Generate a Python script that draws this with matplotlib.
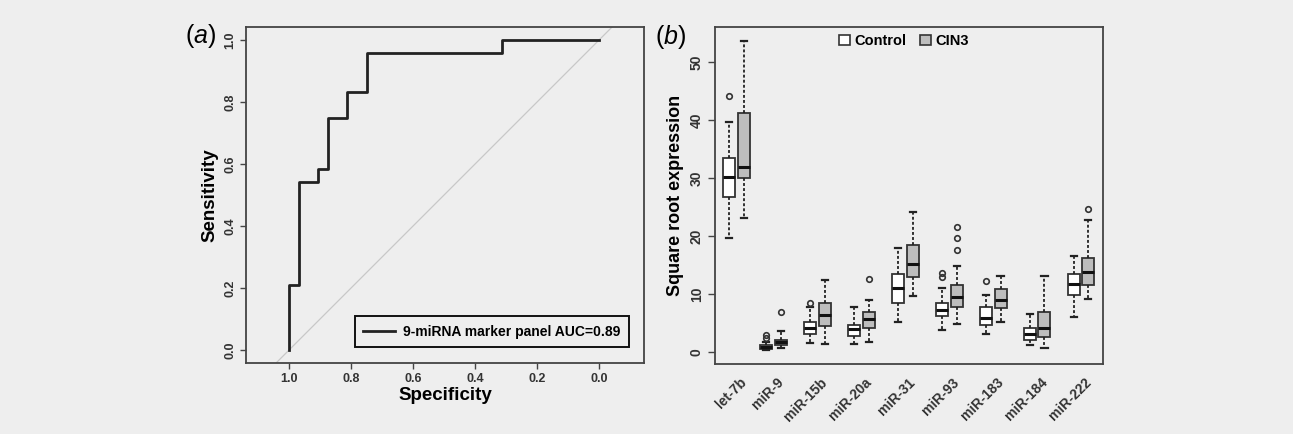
import matplotlib.pyplot as plt
import numpy as np

plt.rcParams['font.family'] = ['Liberation Sans', 'DejaVu Sans']
plt.rcParams['mathtext.fontset'] = 'custom'
plt.rcParams['mathtext.it'] = 'Liberation Sans:italic'
plt.rcParams['mathtext.rm'] = 'Liberation Sans'

# ROC curve (panel a)
specificity = [1.0, 1.0, 0.96875, 0.96875, 0.90625, 0.90625, 0.875, 0.875,
               0.8125, 0.8125, 0.75, 0.75, 0.3125, 0.3125, 0.0]
sensitivity = [0.0, 0.2083, 0.2083, 0.5417, 0.5417, 0.5833, 0.5833, 0.75,
               0.75, 0.8333, 0.8333, 0.9583, 0.9583, 1.0, 1.0]
roc_label = "9-miRNA marker panel AUC=0.89"

# boxplots (panel b)
mirnas = ["let-7b", "miR-9", "miR-15b", "miR-20a", "miR-31", "miR-93",
          "miR-183", "miR-184", "miR-222"]
ctrl_whislo = [19.6, 0.4, 1.6, 1.3, 5.2, 3.8, 3.1, 1.2, 6.1]
ctrl_q1 = [26.8, 0.55, 3.0, 2.7, 8.5, 6.2, 4.6, 2.1, 9.9]
ctrl_med = [30.2, 0.85, 4.15, 4.0, 11.0, 7.2, 5.9, 3.0, 11.8]
ctrl_q3 = [33.5, 1.2, 5.1, 4.7, 13.4, 8.5, 7.7, 4.2, 13.4]
ctrl_whishi = [39.7, 1.7, 7.8, 7.7, 17.9, 11.1, 9.9, 6.6, 16.5]
ctrl_fliers = [[44.2], [2.4, 2.9], [8.5], [], [], [12.9, 13.6], [12.3], [], []]

cin_whislo = [23.2, 0.6, 1.3, 1.7, 9.6, 4.8, 5.1, 0.6, 9.2]
cin_q1 = [30.1, 1.2, 4.4, 4.2, 12.9, 7.8, 7.6, 2.6, 11.5]
cin_med = [31.9, 1.7, 6.3, 5.6, 15.1, 9.5, 8.9, 4.1, 13.8]
cin_q3 = [41.3, 2.1, 8.5, 6.8, 18.4, 11.6, 10.8, 6.9, 16.2]
cin_whishi = [53.7, 3.6, 12.4, 8.9, 24.1, 14.9, 13.1, 13.1, 22.7]
cin_fliers = [[], [6.9], [], [12.5], [], [17.6, 19.6, 21.6], [], [], [24.6]]

BG = "#eeeeee"
FRAME = "#444444"

fig = plt.figure(figsize=(12.93, 4.34), dpi=100, facecolor=BG)
W, H = 1293, 434


def px_axes(l, t, r, b):
    return fig.add_axes([l / W, 1 - b / H, (r - l) / W, (b - t) / H])


# ---- panel a ----
ax1 = px_axes(246, 27, 644, 363)
ax1.set_facecolor(BG)
ax1.plot([1.2, -0.2], [-0.2, 1.2], color="#c8c8c8", lw=0.9, zorder=1)
ax1.plot(specificity, sensitivity, color="#222222", lw=2, label=roc_label, zorder=3)
ax1.set_xlim(1.139, -0.145)
ax1.set_ylim(-0.042, 1.042)
ax1.set_xticks(np.arange(0, 1.01, 0.2))
ax1.set_yticks(np.arange(0, 1.01, 0.2))
ax1.xaxis.set_major_formatter(plt.FuncFormatter(lambda v, p: f"{v:.1f}"))
ax1.yaxis.set_major_formatter(plt.FuncFormatter(lambda v, p: f"{v:.1f}"))
ax1.tick_params(labelsize=9, length=4, color=FRAME, width=1, pad=3)
for lab in ax1.get_xticklabels() + ax1.get_yticklabels():
    lab.set_fontweight("bold")
    lab.set_color("#333333")
ax1.tick_params(axis="y", labelrotation=90)
for lab in ax1.get_yticklabels():
    lab.set_va("center")
ax1.set_xlabel("Specificity", fontsize=13.5, fontweight="bold", labelpad=2)
ax1.set_ylabel("Sensitivity", fontsize=13.5, fontweight="bold", labelpad=4)
for s in ax1.spines.values():
    s.set_color(FRAME)
    s.set_linewidth(1.3)
leg = ax1.legend(loc="lower right", bbox_to_anchor=(0.962, 0.048), borderaxespad=0,
                 fancybox=False, edgecolor="#111111", facecolor=BG, framealpha=1,
                 prop={"weight": "bold", "size": 10}, handlelength=2.3,
                 borderpad=0.6, handletextpad=0.6)
leg.get_frame().set_linewidth(1.4)
fig.text(185 / W, 1 - 36 / H, r"($\it{a}$)", fontsize=18, va="center", ha="left")

# ---- panel b ----
ax2 = px_axes(715, 27, 1103, 364)
ax2.set_facecolor(BG)
group_pos = np.arange(len(mirnas)) * 3 + 1.0
ctrl_pos = group_pos.copy()
cin_pos = group_pos + 1.0
ctrl_pos[0] = 1.46
cin_pos[0] = 2.5


def make_stats(lo, q1, med, q3, hi, fl):
    return [dict(whislo=a, q1=b, med=c, q3=d, whishi=e, fliers=f)
            for a, b, c, d, e, f in zip(lo, q1, med, q3, hi, fl)]


common = dict(widths=0.82, capwidths=0.42, patch_artist=True, showfliers=True,
              whiskerprops=dict(color="#222222", lw=1.3, linestyle=(0, (1.6, 1.2))),
              capprops=dict(color="#222222", lw=1.6),
              medianprops=dict(color="#111111", lw=2.2),
              flierprops=dict(marker="o", markersize=4, markerfacecolor="none",
                              markeredgecolor="#333333", markeredgewidth=1.2))
ax2.bxp(make_stats(ctrl_whislo, ctrl_q1, ctrl_med, ctrl_q3, ctrl_whishi, ctrl_fliers),
        positions=ctrl_pos, boxprops=dict(facecolor="white", edgecolor="#333333", lw=1.3),
        **common)
ax2.bxp(make_stats(cin_whislo, cin_q1, cin_med, cin_q3, cin_whishi, cin_fliers),
        positions=cin_pos, boxprops=dict(facecolor="#bdbdbd", edgecolor="#333333", lw=1.3),
        **common)
ax2.set_xlim(0.5, 27)
ax2.set_ylim(-2.1, 56.1)
ax2.set_yticks(np.arange(0, 51, 10))
ax2.set_yticklabels([str(v) for v in range(0, 51, 10)])
centers = (ctrl_pos + cin_pos) / 2
ax2.set_xticks(centers + 0.2)
ax2.set_xticklabels(mirnas, rotation=45, ha="right", va="top", rotation_mode="anchor")
ax2.tick_params(axis="x", length=0, pad=8, labelsize=10)
ax2.tick_params(axis="y", labelsize=10, length=5, color=FRAME, width=1, pad=3,
                labelrotation=90)
for lab in ax2.get_yticklabels():
    lab.set_va("center")
for lab in ax2.get_xticklabels() + ax2.get_yticklabels():
    lab.set_fontweight("bold")
    lab.set_color("#333333")
ax2.set_ylabel("Square root expression", fontsize=13, fontweight="bold", labelpad=4)
for s in ax2.spines.values():
    s.set_color(FRAME)
    s.set_linewidth(1.3)
h1 = plt.Rectangle((0, 0), 1, 1, facecolor="white", edgecolor="#333333", lw=1.2)
h2 = plt.Rectangle((0, 0), 1, 1, facecolor="#bdbdbd", edgecolor="#333333", lw=1.2)
ax2.legend([h1, h2], ["Control", "CIN3"], loc="upper center", ncol=2, frameon=False,
           bbox_to_anchor=(0.487, 1.01), prop={"weight": "bold", "size": 10.5},
           handlelength=0.7, handleheight=0.7, handletextpad=0.3, columnspacing=1.0,
           borderaxespad=0.3)
fig.text(655 / W, 1 - 37 / H, r"($\it{b}$)", fontsize=18, va="center", ha="left")

fig.savefig("out.png", dpi=100, facecolor=BG)
